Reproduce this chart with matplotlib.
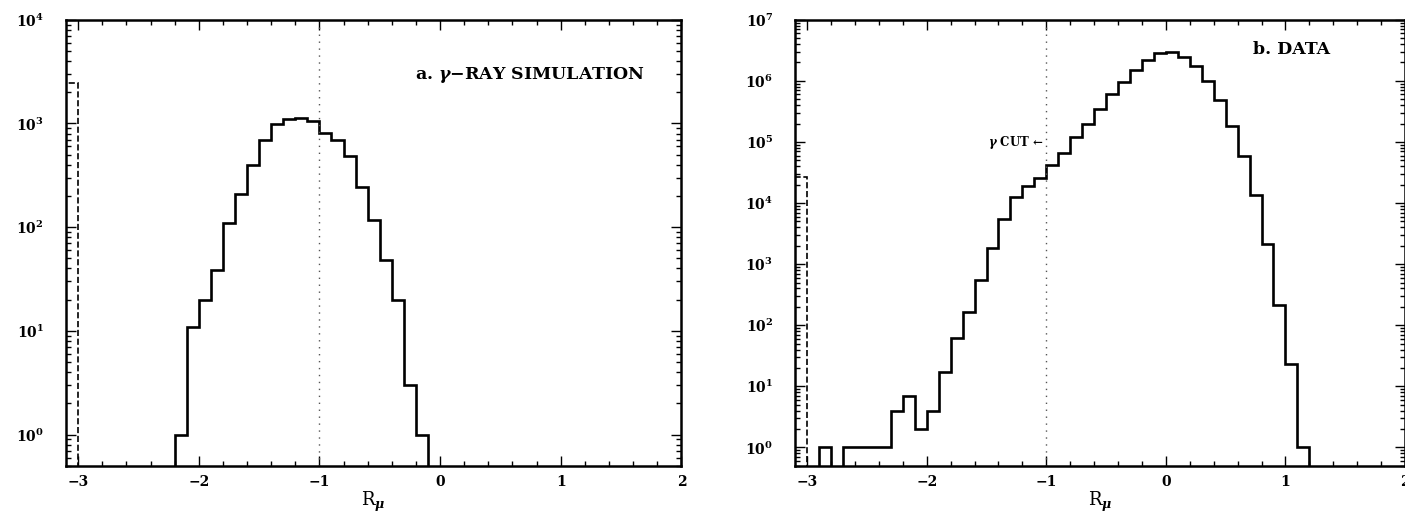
import numpy as np
import matplotlib.pyplot as plt
from matplotlib.ticker import LogLocator, MultipleLocator, NullFormatter

plt.rcParams['font.family'] = ['DejaVu Serif']
plt.rcParams['font.weight'] = 'bold'
plt.rcParams['mathtext.fontset'] = 'custom'
plt.rcParams['mathtext.rm'] = 'DejaVu Serif:bold'
plt.rcParams['mathtext.it'] = 'DejaVu Serif:italic:bold'
plt.rcParams['mathtext.bf'] = 'DejaVu Serif:bold'

# a. gamma-ray simulation, bins of 0.1 from -2.2 to -0.1
sim_edges = np.linspace(-2.2, -0.1, 22)
sim_counts = [1, 11, 20, 39, 110, 208, 400, 690, 990, 1100, 1120, 1050,
              810, 690, 490, 245, 118, 48, 20, 3, 1]
sim_under = 2450

# b. data, bins of 0.1 from -2.9 to 1.2
data_edges = np.linspace(-2.9, 1.2, 42)
data_counts = [1, 0, 1, 1, 1, 1, 4, 7, 2, 4, 17, 61, 163, 560,
               1850, 5500, 12500, 19000, 25500, 42000, 67000, 120000,
               196000, 353000, 600000, 960000, 1.49e6, 2.17e6, 2.9e6,
               2.97e6, 2.5e6, 1.73e6, 980000, 480000, 182000, 59000,
               13600, 2100, 213, 23.5, 1]
data_under = 27000

under_edges = [-3.1, -3.0]
cut_x = -1.0

fig = plt.figure(figsize=(14.05, 5.21), dpi=100)
ax1 = fig.add_axes([0.047, 0.106, 0.438, 0.856])
ax2 = fig.add_axes([0.566, 0.106, 0.434, 0.856])


def style(ax, ymax):
    ax.set_yscale('log')
    ax.set_xlim(-3.1, 2.0)
    ax.set_ylim(0.5, ymax)
    ax.xaxis.set_major_locator(MultipleLocator(1))
    ax.xaxis.set_minor_locator(MultipleLocator(0.2))
    ax.yaxis.set_major_locator(LogLocator(base=10, numticks=20))
    ax.yaxis.set_minor_locator(LogLocator(base=10, subs=np.arange(2, 10), numticks=20))
    ax.yaxis.set_minor_formatter(NullFormatter())
    ax.tick_params(which='both', direction='in', top=True, right=True, width=1.0)
    ax.tick_params(which='major', length=7, labelsize=10)
    ax.tick_params(axis='y', which='major', pad=16)
    ax.tick_params(axis='x', which='major', pad=7)
    ax.tick_params(which='minor', length=3.5)
    for s in ax.spines.values():
        s.set_linewidth(1.8)
    ax.axvline(cut_x, color='#555555', linestyle=(0, (1, 4)), linewidth=1.0)
    ax.set_xlabel(r'R$_\mu$', fontsize=13, labelpad=0)


style(ax1, 1e4)
ax1.stairs([sim_under], under_edges, color='black', linestyle='--', linewidth=1.2)
ax1.stairs(sim_counts, sim_edges, color='black', linewidth=1.9)
ax1.text(0.94, 0.877, r'a. $\gamma$$-$RAY SIMULATION', transform=ax1.transAxes,
         ha='right', va='center', fontsize=12.5)

style(ax2, 1e7)
ax2.stairs([data_under], under_edges, color='black', linestyle='--', linewidth=1.2)
ax2.stairs(data_counts, data_edges, color='black', linewidth=1.9)
ax2.text(0.877, 0.933, 'b. DATA', transform=ax2.transAxes,
         ha='right', va='center', fontsize=12.5)
ax2.text(0.407, 0.724, r'$\gamma$ CUT ←', transform=ax2.transAxes,
         ha='right', va='center', fontsize=8.5)

fig.savefig('out.png', dpi=100)
